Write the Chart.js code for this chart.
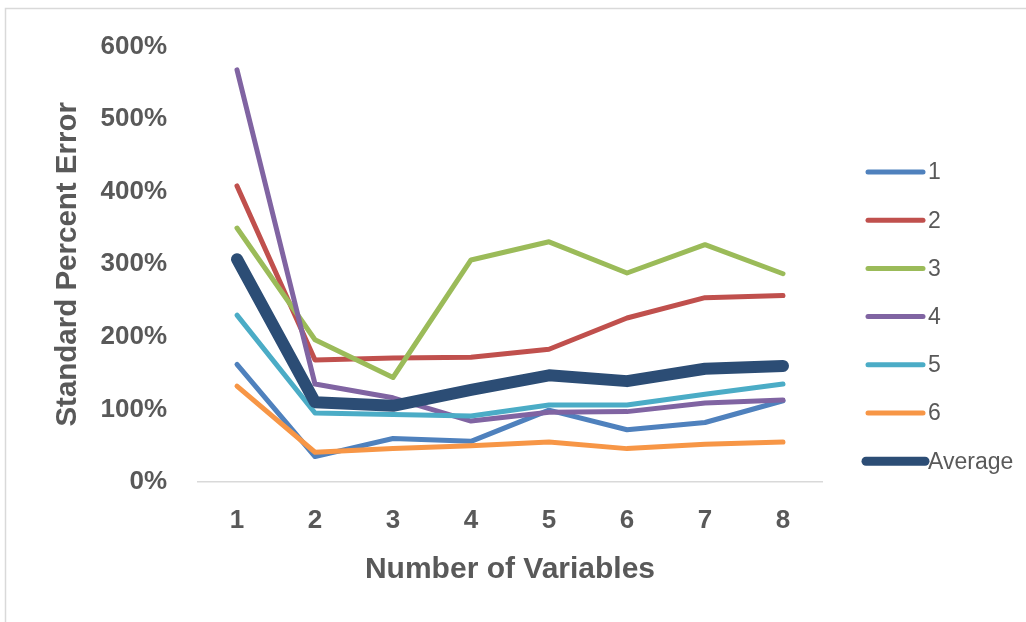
<!DOCTYPE html>
<html>
<head>
<meta charset="utf-8">
<title>Standard Percent Error by Number of Variables</title>
<script src="https://cdn.jsdelivr.net/npm/chart.js@4/dist/chart.umd.min.js"></script>
<style>
  html, body { margin: 0; padding: 0; background: #ffffff; }
  #wrap { position: relative; width: 1026px; height: 622px; }
</style>
</head>
<body>
<div id="wrap"><canvas id="c" width="1026" height="622"></canvas></div>
<script>
// Number of variables on the x axis
const categories = ['1', '2', '3', '4', '5', '6', '7', '8'];

// Standard percent error (%) for each series
const series1 = [162, 35, 60, 56, 99, 72, 82, 112];
const series2 = [408, 168, 171, 172, 183, 226, 254, 257];
const series3 = [350, 196, 144, 306, 331, 288, 327, 287];
const series4 = [568, 135, 116, 84, 96, 97, 109, 113];
const series5 = [230, 95, 93, 91, 106, 106, 121, 135];
const series6 = [132, 41, 46, 50, 55, 46, 52, 55];
const average = [307, 110, 105, 127, 147, 139, 156, 160];

const seriesNames = ['1', '2', '3', '4', '5', '6', 'Average'];
const yTicks = [0, 100, 200, 300, 400, 500, 600];

const FONT = "'Liberation Sans', Arial, sans-serif";
const TEXT = '#595959';

const colors = ['#4F81BD', '#C0504D', '#9BBB59', '#8064A2', '#4BACC6', '#F79646', '#2C4D75'];
const widths = [5, 5, 5, 5, 5, 5, 12];
const values = [series1, series2, series3, series4, series5, series6, average];

const datasets = values.map((v, i) => ({
  label: seriesNames[i],
  data: v,
  borderColor: colors[i],
  backgroundColor: colors[i],
  borderWidth: widths[i],
  borderCapStyle: 'round',
  borderJoinStyle: 'round',
  pointRadius: 0,
  pointHoverRadius: 0,
  tension: 0,
  fill: false,
  order: -i   // later series sit on top
}));

// Outer light frame of the chart object
const framePlugin = {
  id: 'frame',
  beforeDraw(chart) {
    const ctx = chart.ctx;
    ctx.save();
    ctx.fillStyle = '#ffffff';
    ctx.fillRect(0, 0, chart.width, chart.height);
    ctx.strokeStyle = '#d9d9d9';
    ctx.lineWidth = 1.5;
    ctx.beginPath();
    ctx.moveTo(1026, 8.5);
    ctx.lineTo(5.5, 8.5);
    ctx.lineTo(5.5, 622);
    ctx.stroke();
    ctx.restore();
  }
};

// Vertical legend on the right
const legendPlugin = {
  id: 'sideLegend',
  afterDraw(chart) {
    const ctx = chart.ctx;
    ctx.save();
    chart.data.datasets.forEach((ds, i) => {
      const y = 172 + i * 48.2;
      ctx.strokeStyle = ds.borderColor;
      ctx.lineWidth = i === 6 ? 9 : 5;
      ctx.lineCap = 'round';
      ctx.beginPath();
      ctx.moveTo(i === 6 ? 866 : 868, y);
      ctx.lineTo(i === 6 ? 925 : 923, y);
      ctx.stroke();
      ctx.fillStyle = TEXT;
      ctx.font = "23px " + FONT;
      ctx.textAlign = 'left';
      ctx.textBaseline = 'middle';
      ctx.fillText(ds.label, 928, y + 1);
    });
    ctx.restore();
  }
};

new Chart(document.getElementById('c'), {
  type: 'line',
  data: { labels: categories, datasets },
  options: {
    responsive: false,
    animation: false,
    layout: { padding: { left: 40, top: 43, right: 204, bottom: 20 } },
    plugins: {
      legend: { display: false },
      tooltip: { enabled: false }
    },
    scales: {
      x: {
        offset: true,
        grid: { display: false, drawTicks: false },
        border: { display: true, color: '#d9d9d9', width: 1.5 },
        ticks: {
          color: TEXT,
          padding: 23,
          font: { family: FONT, size: 26, weight: 'bold' }
        },
        title: {
          display: true,
          text: 'Number of Variables',
          color: TEXT,
          font: { family: FONT, size: 30, weight: 'bold' },
          padding: { top: 0, bottom: 14 }
        },
        afterFit(scale) { scale.height = 120; }
      },
      y: {
        min: 0,
        max: 600,
        grid: { display: false, drawTicks: false },
        border: { display: false },
        afterBuildTicks(scale) { scale.ticks = yTicks.map(v => ({ value: v })); },
        ticks: {
          color: TEXT,
          padding: 31,
          font: { family: FONT, size: 26, weight: 'bold' },
          callback: v => v + '%'
        },
        title: {
          display: true,
          text: 'Standard Percent Error',
          color: TEXT,
          font: { family: FONT, size: 29.5, weight: 'bold' },
          padding: { top: 10, bottom: 0 }
        },
        afterFit(scale) { scale.width = 158; }
      }
    }
  },
  plugins: [framePlugin, legendPlugin]
});
</script>
</body>
</html>
